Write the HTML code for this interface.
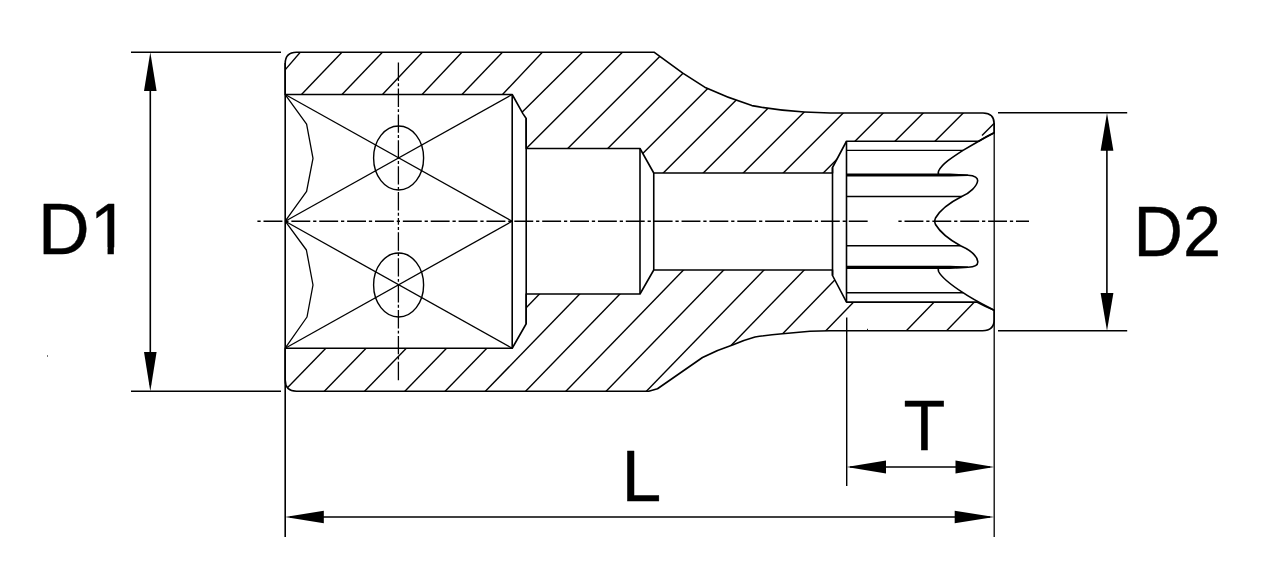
<!DOCTYPE html>
<html><head><meta charset="utf-8"><title>Socket drawing</title>
<style>
html,body{margin:0;padding:0;background:#fff;}
body{width:1264px;height:572px;overflow:hidden;}
svg{display:block;font-family:"Liberation Sans",Arial,sans-serif;}
</style></head><body>
<svg width="1264" height="572" viewBox="0 0 1264 572" stroke="#000" stroke-linecap="butt" stroke-linejoin="round">
<rect x="0" y="0" width="1264" height="572" fill="#fff" stroke="none"/>
<defs><clipPath id="ct"><path d="M285.2,63.5 Q285.2,52.2 296.5,52.2 L654,52.2 L682.8,73.2 L704.7,87.2 Q728,98 751.9,105.6 Q778,110.5 804.3,112 L830,113 L983,113 Q994.2,113 994.2,124 L994.2,132.7 Q985,137 978.7,141.25 L846.5,141.25 L832.5,167.5 L832.5,173 L653.75,173 L640,148.5 L526.2,148.5 L526.2,118.5 L522.9,113.6 L512.2,94.5 L285.2,94.5 Z"/></clipPath><clipPath id="cb"><path d="M285.2,380 Q285.2,391.25 296.5,391.25 L648.75,391.25 L657.5,388.75 L702.5,357.5 Q717,350 732.5,345 Q744,340 755,337 Q768,335 782.5,333.75 L810,331.25 L830,330.75 L982.5,330.75 Q994.2,330.75 994.2,319.5 L994.2,310.3 Q985,306.5 976.8,302.1 L846.5,302.1 L832.5,275.5 L832.5,270 L653.75,270 L640,294 L526.2,294 L526.2,323.75 L512.2,348.25 L285.2,348.25 Z"/></clipPath></defs>
<g clip-path="url(#ct)" stroke-width="1.4">
<line x1="304.21" y1="47.65" x2="281.09" y2="74.55"/>
<line x1="346.15" y1="47.87" x2="297.35" y2="98.83"/>
<line x1="386.65" y1="47.87" x2="337.85" y2="98.83"/>
<line x1="426.52" y1="47.84" x2="378.38" y2="98.86"/>
<line x1="466.12" y1="47.84" x2="417.98" y2="98.86"/>
<line x1="506.65" y1="47.87" x2="457.85" y2="98.83"/>
<line x1="546.52" y1="47.84" x2="498.38" y2="98.86"/>
<line x1="586.86" y1="47.98" x2="519.24" y2="114.92"/>
<line x1="626.74" y1="47.96" x2="522.01" y2="152.74"/>
<line x1="676.25" y1="40" x2="536.25" y2="180"/>
<line x1="716.25" y1="40" x2="576.25" y2="180"/>
<line x1="756.25" y1="40" x2="616.25" y2="180"/>
<line x1="796.25" y1="40" x2="656.25" y2="180"/>
<line x1="836.25" y1="40" x2="696.25" y2="180"/>
<line x1="876.25" y1="40" x2="736.25" y2="180"/>
<line x1="916.25" y1="40" x2="776.25" y2="180"/>
<line x1="956.25" y1="40" x2="816.25" y2="180"/>
<line x1="996.25" y1="40" x2="856.25" y2="180"/>
<line x1="1036.25" y1="40" x2="896.25" y2="180"/>
<line x1="982" y1="135.4" x2="994" y2="123.6"/>
</g>
<g clip-path="url(#cb)" stroke-width="1.4">
<line x1="411.45" y1="260" x2="275.65" y2="400"/>
<line x1="451.70" y1="260" x2="315.90" y2="400"/>
<line x1="491.95" y1="260" x2="356.15" y2="400"/>
<line x1="532.20" y1="260" x2="396.40" y2="400"/>
<line x1="572.45" y1="260" x2="436.65" y2="400"/>
<line x1="612.70" y1="260" x2="476.90" y2="400"/>
<line x1="652.95" y1="260" x2="517.15" y2="400"/>
<line x1="693.20" y1="260" x2="557.40" y2="400"/>
<line x1="733.45" y1="260" x2="597.65" y2="400"/>
<line x1="773.70" y1="260" x2="637.90" y2="400"/>
<line x1="813.95" y1="260" x2="678.15" y2="400"/>
<line x1="854.20" y1="260" x2="718.40" y2="400"/>
<line x1="894.45" y1="260" x2="758.65" y2="400"/>
<line x1="974.95" y1="260" x2="839.15" y2="400"/>
<line x1="1015.20" y1="260" x2="879.40" y2="400"/>
</g>
<path d="M285.2,63.5 Q285.2,52.2 296.5,52.2 L654,52.2 L682.8,73.2 L704.7,87.2 Q728,98 751.9,105.6 Q778,110.5 804.3,112 L830,113 L983,113 Q994.2,113 994.2,124 L994.2,132.7 Q985,137 978.7,141.25 L846.5,141.25 L832.5,167.5 L832.5,173 L653.75,173 L640,148.5 L526.2,148.5 L526.2,118.5 L522.9,113.6 L512.2,94.5 L285.2,94.5 Z" stroke-width="1.6" fill="none" />
<path d="M285.2,380 Q285.2,391.25 296.5,391.25 L648.75,391.25 L657.5,388.75 L702.5,357.5 Q717,350 732.5,345 Q744,340 755,337 Q768,335 782.5,333.75 L810,331.25 L830,330.75 L982.5,330.75 Q994.2,330.75 994.2,319.5 L994.2,310.3 Q985,306.5 976.8,302.1 L846.5,302.1 L832.5,275.5 L832.5,270 L653.75,270 L640,294 L526.2,294 L526.2,323.75 L512.2,348.25 L285.2,348.25 Z" stroke-width="1.6" fill="none" />
<line x1="285.2" y1="63" x2="285.2" y2="537" stroke-width="1.6" />
<line x1="994.2" y1="123" x2="994.2" y2="537" stroke-width="1.3" />
<line x1="512.2" y1="94.5" x2="512.2" y2="348.25" stroke-width="1.6" />
<line x1="526.2" y1="118.5" x2="526.2" y2="323.75" stroke-width="1.6" />
<line x1="285.2" y1="94.5" x2="512.2" y2="221.25" stroke-width="1.3" />
<line x1="285.2" y1="221.25" x2="512.2" y2="94.5" stroke-width="1.3" />
<line x1="285.2" y1="221.25" x2="512.2" y2="348.25" stroke-width="1.3" />
<line x1="285.2" y1="348.25" x2="512.2" y2="221.25" stroke-width="1.3" />
<ellipse cx="398.6" cy="158" rx="25" ry="32" fill="none" stroke-width="1.4"/>
<ellipse cx="398.6" cy="285" rx="25" ry="32" fill="none" stroke-width="1.4"/>
<path d="M285.2,94.6 L306.6,124.2 L313,158.4 L306.6,191.3 L285.2,221.2" stroke-width="1.3" fill="none" />
<path d="M285.2,221.2 L306.4,250 L313,285 L307,317 L285.2,348.2" stroke-width="1.3" fill="none" />
<line x1="640" y1="148.5" x2="640" y2="294" stroke-width="1.6" />
<line x1="653.75" y1="173" x2="653.75" y2="270" stroke-width="1.6" />
<line x1="832.5" y1="167.5" x2="832.5" y2="275.5" stroke-width="1.6" />
<line x1="846.5" y1="141.25" x2="846.5" y2="302.1" stroke-width="1.6" />
<line x1="846.5" y1="150.4" x2="963" y2="150.4" stroke-width="1.4" />
<line x1="846.5" y1="196.5" x2="961.7" y2="196.5" stroke-width="1.4" />
<line x1="846.5" y1="245.8" x2="960.5" y2="245.8" stroke-width="1.4" />
<line x1="846.5" y1="292.7" x2="963" y2="292.7" stroke-width="1.4" />
<polygon points="846.5,173.5 950,173.5 968,174.4 968,176 950,176.6 846.5,176.6" fill="#000" stroke="none"/>
<polygon points="846.5,265.8 950,265.8 968,266.5 968,268.1 950,269 846.5,269" fill="#000" stroke="none"/>
<path d="M994.2,132.7 C986,137 972,145 963,150.4 C952,157.5 942,164 938.6,171 C938,173 938.3,174.5 939,175" stroke-width="1.6" fill="none" />
<path d="M956,175 L968,175.2 C975,175.4 978,178 977.6,181 C977,186 970,193 961.7,196.5 C950,202.5 940,210 935.5,218 C934.6,220 934.6,222.5 935.5,224.5 C940,232 950,240 960.5,245.8 C970,250 977,256 977.8,261.6 C978,265 975,267.2 968,267.3 L956,267.4" stroke-width="1.6" fill="none" />
<path d="M939,267.4 C938.3,268 938,269.5 938.6,271.5 C942,278.5 952,285.5 963,292.7 C972,299 986,306 994.2,310.3" stroke-width="1.6" fill="none" />
<line x1="257.4" y1="221.25" x2="868.7" y2="221.25" stroke-width="1.4" stroke-dasharray="3.25 2.85 18.9 2.87"/>
<line x1="898.4" y1="221.25" x2="1029" y2="221.25" stroke-width="1.4" stroke-dasharray="3.25 2.85 18.9 2.87"/>
<line x1="398.4" y1="62.6" x2="398.4" y2="221.4" stroke-width="1.3" stroke-dasharray="18.4 2.3 2.9 2.3"/>
<line x1="398.4" y1="380.2" x2="398.4" y2="221.4" stroke-width="1.3" stroke-dasharray="18.4 2.3 2.9 2.3"/>
<line x1="131" y1="52.2" x2="281" y2="52.2" stroke-width="1.45" />
<line x1="131" y1="391.3" x2="281" y2="391.3" stroke-width="1.45" />
<line x1="150.3" y1="60" x2="150.3" y2="385" stroke-width="1.6" />
<line x1="998" y1="112.8" x2="1127.2" y2="112.8" stroke-width="1.45" />
<line x1="998" y1="330.8" x2="1127.2" y2="330.8" stroke-width="1.45" />
<line x1="1106.9" y1="120" x2="1106.9" y2="325" stroke-width="1.6" />
<line x1="846.7" y1="317.5" x2="846.7" y2="486" stroke-width="1.45" />
<line x1="290" y1="517" x2="990" y2="517" stroke-width="1.45" />
<line x1="850" y1="467" x2="990" y2="467" stroke-width="1.45" />
<polygon points="150.3,52.2 144,91 156.6,91" fill="#000" stroke="none"/>
<polygon points="150.3,391.3 144,352 156.6,352" fill="#000" stroke="none"/>
<polygon points="1107,113 1100.6,150.8 1113.4,150.8" fill="#000" stroke="none"/>
<polygon points="1107,330.8 1100.6,293 1113.4,293" fill="#000" stroke="none"/>
<polygon points="285,517 323.8,510.8 323.8,523.2" fill="#000" stroke="none"/>
<polygon points="994.2,517 954.7,510.8 954.7,523.2" fill="#000" stroke="none"/>
<polygon points="846.7,467 886,460.6 886,473.4" fill="#000" stroke="none"/>
<polygon points="994.2,467 955.5,460.6 955.5,473.4" fill="#000" stroke="none"/>
<text x="38" y="254" font-size="71.5" fill="#000" stroke="#000" stroke-width="0.4">D1</text>
<rect x="92" y="247.3" width="15.55" height="9" fill="#fff" stroke="none"/>
<rect x="113.84" y="247.3" width="14.5" height="9" fill="#fff" stroke="none"/>
<text x="1133.6" y="256.2" font-size="70.5" textLength="87.5" lengthAdjust="spacingAndGlyphs" fill="#000" stroke="#000" stroke-width="0.4">D2</text>
<text x="621.4" y="501.3" font-size="71.5" fill="#000" stroke="#000" stroke-width="0.4">L</text>
<text x="903.6" y="450" font-size="70.5" textLength="41.8" lengthAdjust="spacingAndGlyphs" fill="#000" stroke="#000" stroke-width="0.4">T</text>
<rect x="47" y="355" width="1" height="2" fill="#777" stroke="none"/>
<rect x="867" y="328.8" width="1" height="1.4" fill="#222" stroke="none"/>
</svg>
</body></html>
